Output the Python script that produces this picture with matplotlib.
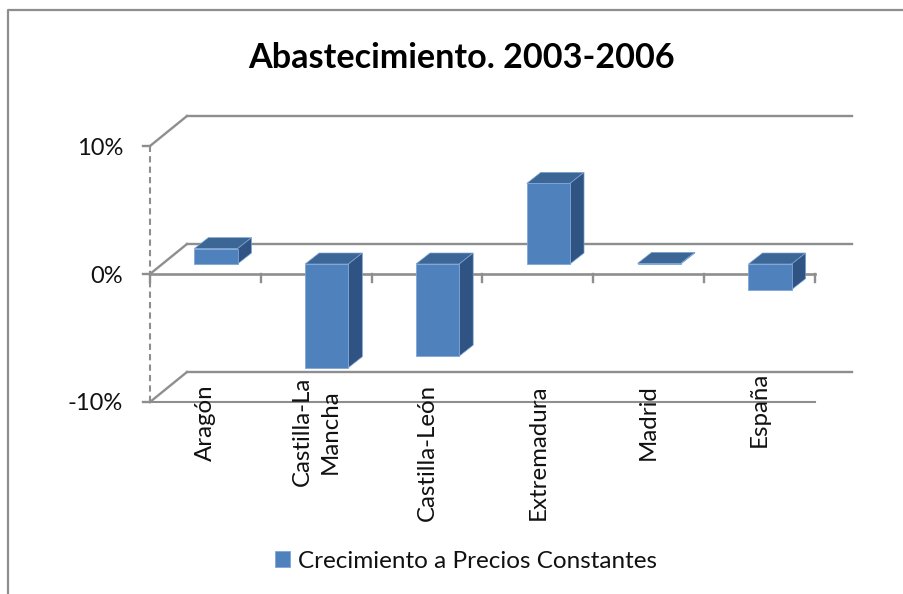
import matplotlib
matplotlib.use("Agg")
import matplotlib.pyplot as plt
from matplotlib.lines import Line2D
from matplotlib.patches import Patch, Polygon
from matplotlib.transforms import Affine2D

categories = ["Aragón", "Castilla-La\nMancha", "Castilla-León", "Extremadura", "Madrid", "España"]
values = [1.2, -8.1, -7.2, 6.3, 0.05, -2.0]
yticks = [-10, 0, 10]
ytick_labels = ["-10%", "0%", "10%"]
title = "Abastecimiento. 2003-2006"
series_name = "Crecimiento a Precios Constantes"

W, H = 904, 594
FONT = "Lato"
FRONT, TOP, SIDE, EDGE = "#4F81BD", "#3B6696", "#2F5382", "#7FA6D6"
GREY = "#8E8E8E"
label_tops = [384, 377, 384, 384, 384, 372]

plt.rcParams["font.family"] = FONT
fig = plt.figure(figsize=(W / 100, H / 100), dpi=100)
ax = fig.add_axes([150 / W, 1 - 402 / H, (815 - 150) / W, (402 - 146) / H])
ax.set_xlim(0, len(categories))
ax.set_ylim(-10, 10)
ax.axis("off")

# outer chart frame
fig.add_artist(Line2D([8 / W, 8 / W, 1], [0, 1 - 10 / H, 1 - 10 / H], color=GREY, lw=1.6))

depth_wall = (37, 30)
depth_bar = (14, 11)
bar_shift = (10.5, 10)
bar_width = 0.39

wall_tf = ax.transData + Affine2D().translate(*depth_wall)
bar_tf = ax.transData + Affine2D().translate(*bar_shift)


def px(x, y, offset=(0, 0)):
    a, b = ax.transData.transform((x, y))
    return a + offset[0], b + offset[1]


def seg(p0, p1, lw=1.7):
    ax.add_line(Line2D([p0[0], p1[0]], [p0[1], p1[1]], color=GREY, lw=lw,
                       transform=None, zorder=1, clip_on=False))


n = len(categories)
for t in yticks:
    ax.plot([0, n], [t, t], color=GREY, lw=1.7, transform=wall_tf, clip_on=False, zorder=1)
    p0, p1 = px(0, t), px(0, t, depth_wall)
    seg(p0, p1)
    if t < 0:
        ax.plot([0, n], [t, t], color=GREY, lw=1.5, clip_on=False, zorder=1)
    seg((p0[0] - 7, p0[1]), p0)

# value axis and category axis
ax.plot([0, 0], [-10, 10], color=GREY, lw=1.5, ls=(0, (3, 2)), clip_on=False, zorder=1)
ax.plot([0, n], [0, 0], color=GREY, lw=1.9, clip_on=False, zorder=1)
for k in range(n + 1):
    b = px(k, 0)
    seg(b, (b[0], b[1] - 8))

# bars, front face drawn from the data, depth faces projected from it
for i, v in enumerate(values):
    x0, x1 = i + 0.5 - bar_width / 2, i + 0.5 + bar_width / 2
    hi, lo = max(v, 0), min(v, 0)
    top = [px(x0, hi, bar_shift), px(x1, hi, bar_shift)]
    top_back = [(a + depth_bar[0], c + depth_bar[1]) for a, c in top]
    side = [px(x1, hi, bar_shift), px(x1, lo, bar_shift)]
    side_back = [(a + depth_bar[0], c + depth_bar[1]) for a, c in side]
    ax.add_patch(Polygon(top + top_back[::-1], facecolor=TOP, edgecolor=EDGE, lw=0.5,
                         transform=None, zorder=3, clip_on=False))
    ax.add_patch(Polygon(side + side_back[::-1], facecolor=SIDE, edgecolor=EDGE, lw=0.5,
                         transform=None, zorder=3, clip_on=False))
    ax.bar(i + 0.5, v, width=bar_width, color=FRONT, edgecolor=EDGE, lw=0.6,
           transform=bar_tf, zorder=4, clip_on=False)

# tick labels
for t, s in zip(yticks, ytick_labels):
    a, b = px(0, t)
    fig.text((a - 27) / W, (b - 2) / H, s, ha="right", va="center", fontsize=17, color="#111111")

for i, (c, top_px) in enumerate(zip(categories, label_tops)):
    a, _ = px(i + 0.5, 0)
    fig.text(a / W, 1 - top_px / H, c, rotation=90, ha="center", va="top", ma="center",
             fontsize=17.3, color="#111111", linespacing=1.4)

fig.text(461 / W, 1 - 58 / H, title, ha="center", va="center", fontsize=24.6,
         fontweight="bold", color="black")

leg = fig.legend(handles=[Patch(facecolor=FRONT, edgecolor=EDGE, lw=0.6, label=series_name)],
                 loc="center", bbox_to_anchor=(466 / W, 1 - 561 / H), frameon=False,
                 fontsize=17.5, handlelength=0.62, handleheight=0.66, handletextpad=0.3,
                 labelcolor="#111111")

fig.savefig("out.png", dpi=100, facecolor="white")
